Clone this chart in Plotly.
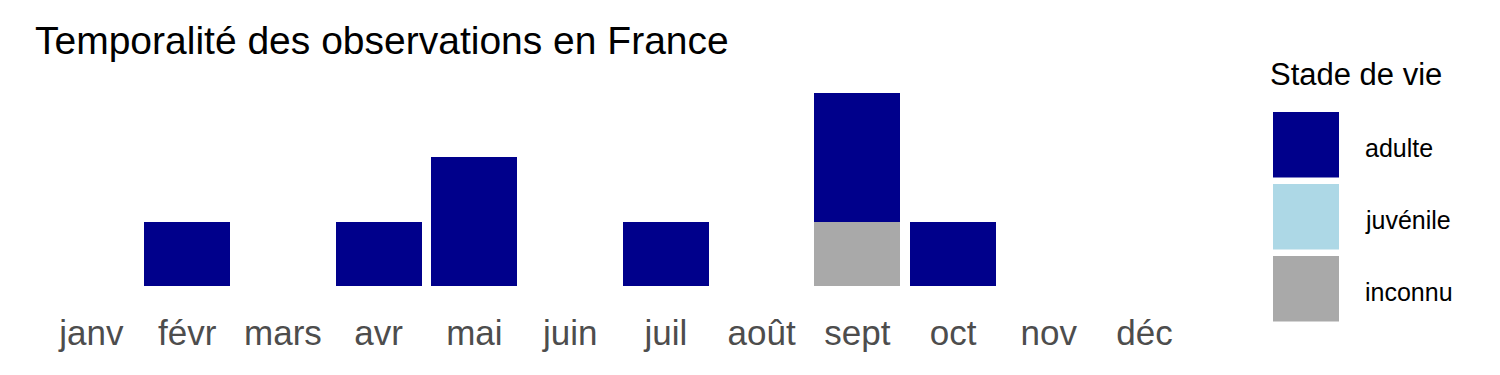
import plotly.graph_objects as go

months = ["janv", "févr", "mars", "avr", "mai", "juin", "juil", "août", "sept", "oct", "nov", "déc"]
adulte = [0, 1, 0, 1, 2, 0, 1, 0, 2, 1, 0, 0]
juvenile = [0, 0, 0, 0, 0, 0, 0, 0, 0, 0, 0, 0]
inconnu = [0, 0, 0, 0, 0, 0, 0, 0, 1, 0, 0, 0]

stages = ["adulte", "juvénile", "inconnu"]
colors = {"adulte": "#00008B", "juvénile": "#ADD8E6", "inconnu": "#A9A9A9"}
values = {"adulte": adulte, "juvénile": juvenile, "inconnu": inconnu}

W, H = 1500, 375
ML, MR, MT, MB = 34, 298, 83, 79
FONT = "Liberation Sans, Arial, sans-serif"

fig = go.Figure()
# bottom of the stack first
for s in ["inconnu", "juvénile", "adulte"]:
    fig.add_trace(go.Bar(
        x=months, y=values[s], name=s,
        marker=dict(color=colors[s], line=dict(width=0)),
        showlegend=False,
    ))

def px_x(px):
    return (px - ML) / (W - ML - MR)

def px_y(py):
    return (H - MB - py) / (H - MT - MB)

shapes = []
annotations = []
key_tops = [112, 184, 256]
for s, top in zip(stages, key_tops):
    shapes.append(dict(type="rect", xref="paper", yref="paper",
                       x0=px_x(1273), x1=px_x(1339), y0=px_y(top + 65.5), y1=px_y(top),
                       fillcolor=colors[s], line=dict(width=0), layer="above"))
    annotations.append(dict(text=s, xref="paper", yref="paper",
                            x=px_x(1363), y=px_y(top + 35.5), xanchor="left", yanchor="middle",
                            showarrow=False, font=dict(family=FONT, size=25, color="black")))
annotations.append(dict(text="Stade de vie", xref="paper", yref="paper",
                        x=px_x(1268), y=px_y(75), xanchor="left", yanchor="middle",
                        showarrow=False, font=dict(family=FONT, size=31, color="black")))

fig.update_layout(
    width=W, height=H,
    margin=dict(l=ML, r=MR, t=MT, b=MB),
    paper_bgcolor="white", plot_bgcolor="white",
    barmode="stack", bargap=0.1,
    title=dict(text="Temporalité des observations en France", x=35 / W, xanchor="left",
               xref="container", yref="container", y=1 - 40 / H, yanchor="middle",
               font=dict(family=FONT, size=39, color="black")),
    xaxis=dict(range=[-0.6, 11.6], showgrid=False, zeroline=False, showline=False,
               ticks="", tickfont=dict(family=FONT, size=35, color="#4D4D4D"),
               ticklabelstandoff=13, fixedrange=True),
    yaxis=dict(range=[-0.15, 3.15], showgrid=False, zeroline=False, showline=False,
               showticklabels=False, ticks="", fixedrange=True),
    shapes=shapes, annotations=annotations,
    font=dict(family=FONT),
)

fig.write_html("out.html")
